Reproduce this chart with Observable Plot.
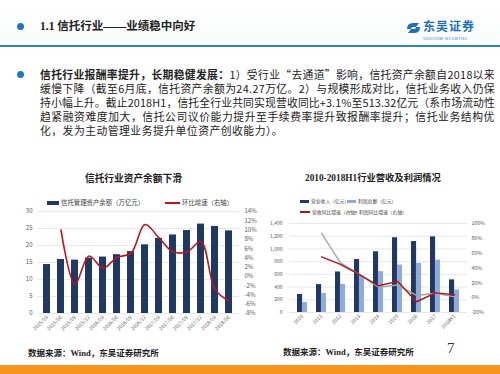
<!DOCTYPE html>
<html><head><meta charset="utf-8">
<script src="https://cdn.jsdelivr.net/npm/d3@7"></script>
<script src="https://cdn.jsdelivr.net/npm/@observablehq/plot@0.6"></script>
<style>
body{margin:0;background:#fff;}
#slide{position:relative;width:500px;height:374px;overflow:hidden;background:#fff;font-family:"Noto Sans CJK SC",sans-serif;color:#222;}
.abs{position:absolute;white-space:nowrap;}
.para{font-size:10.8px;line-height:13px;left:40px;}
.leg{font-size:6.4px;line-height:8px;color:#404040;display:flex;align-items:center;}
.leg2{font-size:4.8px;line-height:6px;color:#404040;display:flex;align-items:center;}
.sw{display:inline-block;margin-right:2px;}
.src{font-family:"Liberation Serif","Noto Sans CJK SC",serif;font-weight:bold;font-size:8.5px;line-height:10px;}
</style></head>
<body><div id="slide">
<div class="abs" style="left:0;top:0;width:500px;height:45px;background:linear-gradient(#fff,#fbfcfd);"></div>
<div class="abs" style="left:17px;top:23px;width:7px;height:7px;border-radius:50%;background:#1E78C2;"></div>
<div class="abs" style="left:40px;top:20px;font-size:11.5px;line-height:13px;font-weight:bold;font-family:'Liberation Serif','Noto Sans CJK SC',serif;color:#222;">1.1 信托行业——业绩稳中向好</div>
<svg class="abs" style="left:405px;top:20px" width="17" height="16"><path d="M2 9 Q2 3 8 3 L14 3 L11 7 L8 7 Q6 7 6 9 Z M15 7 Q15 13 9 13 L3 13 L6 9 L9 9 Q11 9 11 7 Z" fill="#1E6FB8"/></svg>
<div class="abs" style="left:423px;top:20px;font-size:12px;line-height:12px;font-weight:bold;color:#1E6FB8;letter-spacing:1px;">东吴证券</div>
<div class="abs" style="left:423px;top:37px;font-size:3.6px;line-height:4px;color:#1E6FB8;letter-spacing:0.3px;">SOOCHOW SECURITIES</div>
<div class="abs" style="left:0;top:45px;width:500px;height:2px;background:#2E86C1;"></div>

<div class="abs" style="left:17px;top:71px;width:7px;height:7px;border-radius:50%;background:#1E78C2;"></div>
<div class="abs para fit" style="top:68px"><b>信托行业报酬率提升，长期稳健发展：</b>1）受行业“去通道”影响，信托资产余额自2018以来</div>
<div class="abs para fit" style="top:82px">缓慢下降（截至6月底，信托资产余额为24.27万亿。2）与规模形成对比，信托业务收入仍保</div>
<div class="abs para fit" style="top:96px">持小幅上升。截止2018H1，信托全行业共同实现营收同比+3.1%至513.32亿元（系市场流动性</div>
<div class="abs para fit" style="top:110px">趋紧融资难度加大，信托公司议价能力提升至手续费率提升致报酬率提升；信托业务结构优</div>
<div class="abs para" style="top:124px;letter-spacing:0.5px">化，发为主动管理业务提升单位资产创收能力）。</div>

<div class="abs" style="left:85px;top:172px;font-size:9.7px;line-height:12px;font-weight:bold;">信托行业资产余额下滑</div>
<div class="abs" style="left:305px;top:172px;font-size:9.3px;line-height:12px;font-weight:bold;font-family:'Liberation Serif','Noto Sans CJK SC',serif;">2010-2018H1行业营收及利润情况</div>

<div class="abs leg" style="left:47px;top:199px;"><span class="sw" style="width:12px;height:4px;background:#203864"></span>信托管理资产余额（万亿元）</div>
<div class="abs leg" style="left:165px;top:199px;"><span class="sw" style="width:15px;height:2.2px;background:#C0141C"></span>环比增速（右轴）</div>

<div class="abs leg2" style="left:300px;top:198px;"><span class="sw" style="width:9px;height:3px;background:#203864"></span>营业收入（亿元）</div>
<div class="abs leg2" style="left:347px;top:198px;"><span class="sw" style="width:9px;height:3px;background:#8FAADC"></span>利润总额（亿元）</div>
<div class="abs leg2" style="left:300px;top:209px;"><span class="sw" style="width:10px;height:1.6px;background:#B0141C"></span>营收同比增速（右轴）</div>
<div class="abs leg2" style="left:347px;top:209px;"><span class="sw" style="width:10px;height:1.6px;background:#A6A6A6"></span>利润同比增速（右轴）</div>

<div id="c1" class="abs" style="left:0;top:195px;"></div>
<div id="c2" class="abs" style="left:262px;top:205px;"></div>

<div class="abs src" style="left:28px;top:348px;">数据来源：Wind，东吴证券研究所</div>
<div class="abs src" style="left:283px;top:347px;">数据来源：Wind，东吴证券研究所</div>
<div class="abs" style="left:447px;top:340px;font-size:15px;line-height:17px;font-family:'Liberation Serif',serif;color:#333;">7</div>
<div class="abs" style="left:0;top:365px;width:500px;height:9px;background:#F7941D;"></div>
</div>
<script>
// Left chart data
const leftCats = ["2015/03","2015/06","2015/09","2015/12","2016/03","2016/06","2016/09","2016/12","2017/03","2017/06","2017/09","2017/12","2018/03","2018/06"];
const assetBalance = [14.4,15.9,15.7,16.3,16.6,17.3,18.2,20.2,22.1,23.1,24.4,26.3,25.6,24.3];
const qoqGrowth = [null,10.0,-1.7,4.4,1.8,4.1,5.0,11.2,8.3,5.3,5.3,7.5,-2.8,-5.3];
const leftTicks = [0,5,10,15,20,25,30];
const leftPctTicks = [-8,-6,-4,-2,0,2,4,6,8,10,12,14];

// Right chart data
const years = ["2010","2011","2012","2013","2014","2015","2016","2017","2018H1"];
const revenue = [283,439,638,833,955,1176,1116,1190,513];
const profit = [158,298,441,568,642,746,773,824,355];
const revGrowth = [null,55,45,31,16,22,-5.5,6.5,4];
const profitGrowth = [null,87,47,31,14,17,3,6,1];
const rightTicks = [0,200,400,600,800,1000,1200,1400];
const rightPctTicks = [-20,0,20,40,60,80,100];

// fit paragraph lines to the text block width
document.querySelectorAll(".fit").forEach(el => {
  const w = el.getBoundingClientRect().width;
  const n = el.textContent.length;
  el.style.letterSpacing = ((455 - w) / n) + "px";
});

const font = "'Noto Sans CJK SC',sans-serif";
const toL = p => (p + 8) * 30 / 22;
const fromL = v => Math.round(v * 22 / 30 - 8);
const d1 = leftCats.map((c, i) => ({cat: c, v: assetBalance[i], g: qoqGrowth[i]}));

const c1 = Plot.plot({
  width: 265, height: 150, marginLeft: 37, marginRight: 26, marginTop: 16, marginBottom: 32,
  style: {fontFamily: font, fontSize: "6px", color: "#595959", background: "transparent"},
  x: {type: "band", domain: leftCats, paddingInner: 0.48, paddingOuter: 0.33, label: null},
  y: {domain: [0, 30], label: null},
  marks: [
    Plot.gridY(leftTicks, {stroke: "#d9d9d9", strokeOpacity: 1, strokeWidth: 0.6}),
    Plot.barY(d1, {x: "cat", y: "v", fill: "#203864"}),
    Plot.line(d1.filter(d => d.g != null), {x: "cat", y: d => toL(d.g), stroke: "#C0141C", strokeWidth: 1.6, curve: "catmull-rom"}),
    Plot.axisY(leftTicks, {anchor: "left", tickSize: 0, tickPadding: 5, label: null, fontSize: 6}),
    Plot.axisY(leftPctTicks.map(toL), {anchor: "right", tickSize: 0, tickPadding: 5, label: null, fontSize: 6, tickFormat: d => fromL(d) + "%"}),
    Plot.axisX({tickRotate: -45, tickSize: 0, tickPadding: 3, label: null, fontSize: 5})
  ]
});
document.getElementById("c1").append(c1);

const toR = p => (p + 20) * 1400 / 120;
const fromR = v => Math.round(v * 120 / 1400 - 20);
const d2 = years.map((y, i) => ({yr: y, rev: revenue[i], pro: profit[i], rg: revGrowth[i], pg: profitGrowth[i]}));

const c2 = Plot.plot({
  width: 238, height: 145, marginLeft: 27, marginRight: 33, marginTop: 18, marginBottom: 38,
  style: {fontFamily: font, fontSize: "5px", color: "#595959", background: "transparent"},
  x: {type: "band", domain: years, paddingInner: 0.5, paddingOuter: 0.3, label: null},
  y: {domain: [0, 1400], label: null},
  marks: [
    Plot.gridY(rightTicks, {stroke: "#d9d9d9", strokeOpacity: 1, strokeWidth: 0.6}),
    Plot.barY(d2, {x: "yr", y: "rev", fill: "#203864", insetRight: 4.9}),
    Plot.barY(d2, {x: "yr", y: "pro", fill: "#8FAADC", insetLeft: 4.9}),
    Plot.line(d2.filter(d => d.pg != null), {x: "yr", y: d => toR(d.pg), stroke: "#A6A6A6", strokeWidth: 1.4}),
    Plot.line(d2.filter(d => d.rg != null), {x: "yr", y: d => toR(d.rg), stroke: "#B0141C", strokeWidth: 1.4}),
    Plot.axisY(rightTicks, {anchor: "left", tickSize: 0, tickPadding: 7, label: null, fontSize: 5, tickFormat: d3.format(",")}),
    Plot.axisY(rightPctTicks.map(toR), {anchor: "right", tickSize: 0, tickPadding: 4, label: null, fontSize: 5.3, tickFormat: d => fromR(d) + "%"}),
    Plot.axisX({tickRotate: -45, tickSize: 0, tickPadding: 3, label: null, fontSize: 5})
  ]
});
document.getElementById("c2").append(c2);
</script>
</body></html>
